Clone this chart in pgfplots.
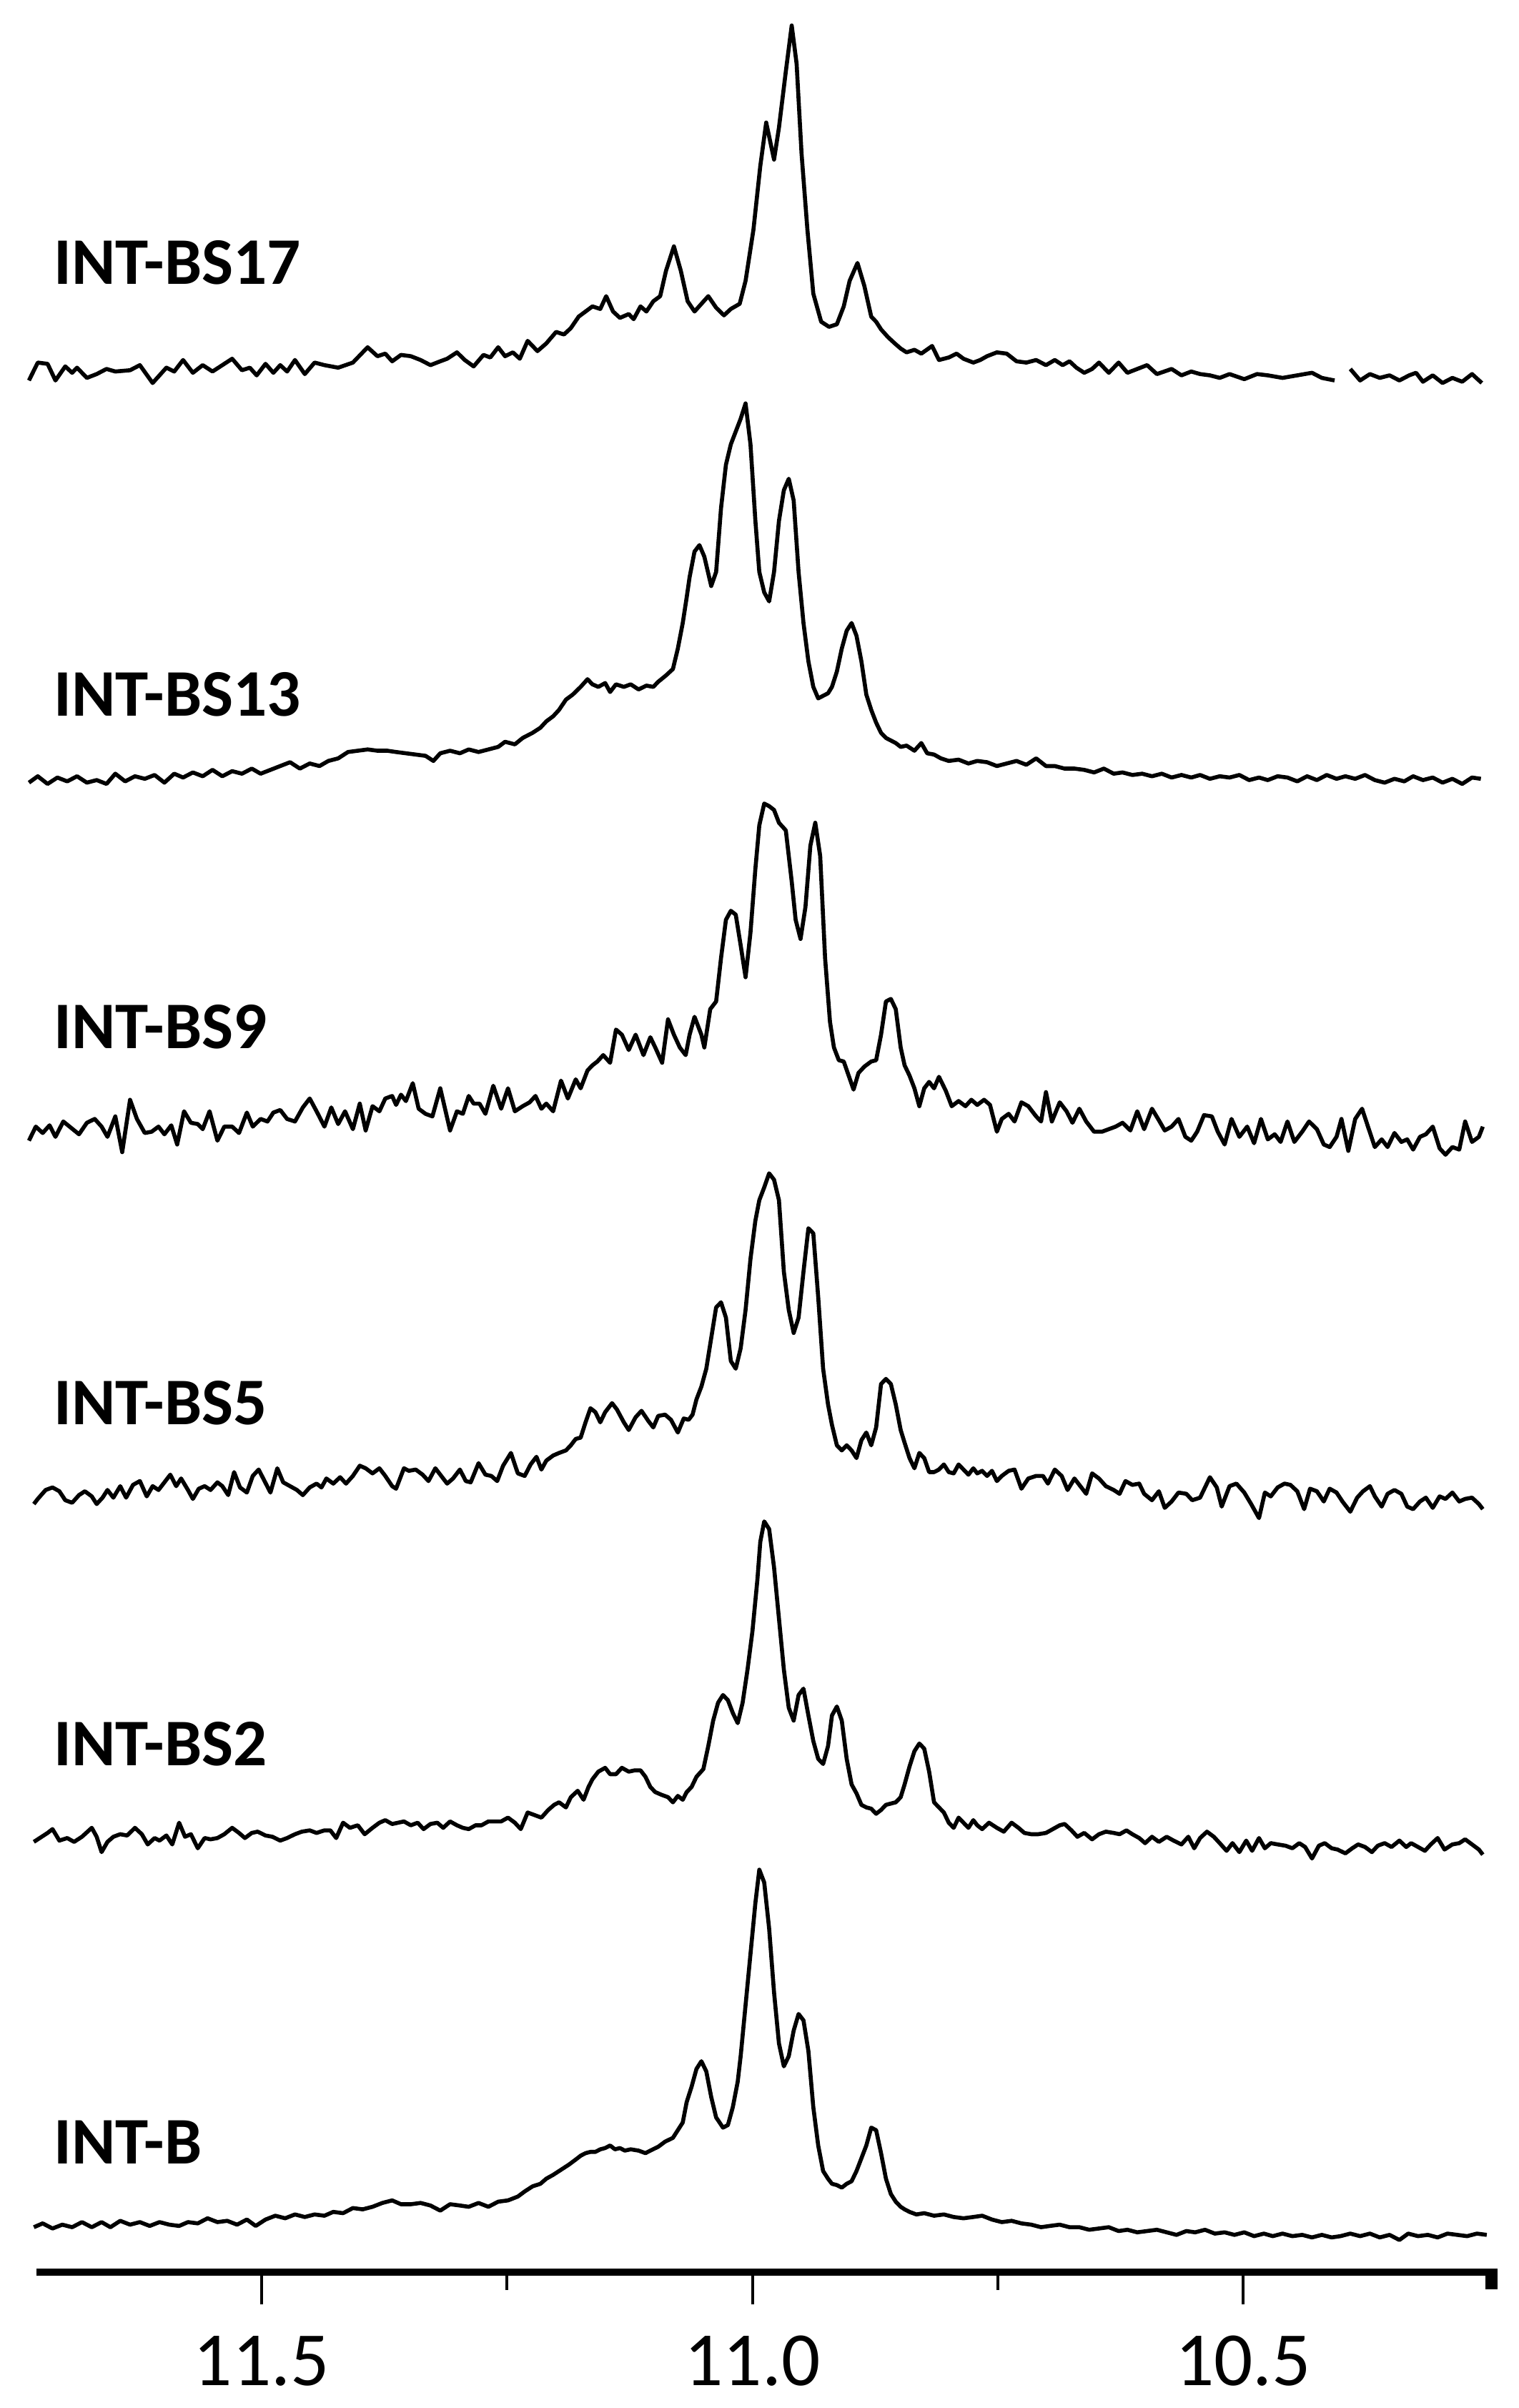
\documentclass[border=0pt]{standalone}
\usepackage{fontspec}
\setmainfont{Carlito}
\usepackage{pgfplots}
\usepackage{pgfplotstable}
\pgfplotsset{compat=1.18}
\pgfplotsset{trace/.style={black, solid, no markers, line width=1.6pt, line join=round}}

% stacked 1H NMR traces, ppm vs. intensity (arbitrary units, offset per trace)
\pgfplotstableread[row sep=\\]{
ppm y\\
11.737 7408\\ 11.728 7478\\ 11.718 7473\\ 11.710 7408\\ 11.700 7463\\ 11.693 7438\\ 11.688 7458\\ 11.678 7418\\
11.668 7433\\ 11.658 7453\\ 11.649 7443\\ 11.634 7448\\ 11.624 7468\\ 11.611 7398\\ 11.597 7458\\ 11.589 7443\\
11.580 7488\\ 11.570 7438\\ 11.560 7468\\ 11.550 7443\\ 11.540 7468\\ 11.530 7493\\ 11.520 7448\\ 11.512 7458\\
11.505 7428\\ 11.496 7473\\ 11.488 7438\\ 11.481 7468\\ 11.474 7443\\ 11.466 7488\\ 11.456 7433\\ 11.446 7478\\
11.436 7468\\ 11.422 7458\\ 11.407 7478\\ 11.392 7538\\ 11.382 7503\\ 11.374 7513\\ 11.367 7483\\ 11.358 7508\\
11.348 7503\\ 11.338 7488\\ 11.328 7468\\ 11.318 7483\\ 11.311 7493\\ 11.301 7518\\ 11.293 7488\\ 11.284 7463\\
11.274 7508\\ 11.267 7498\\ 11.259 7538\\ 11.252 7503\\ 11.244 7518\\ 11.237 7493\\ 11.229 7563\\ 11.219 7523\\
11.210 7553\\ 11.200 7598\\ 11.192 7588\\ 11.185 7613\\ 11.177 7658\\ 11.170 7678\\ 11.163 7698\\ 11.155 7688\\
11.149 7738\\ 11.142 7678\\ 11.135 7653\\ 11.126 7668\\ 11.121 7648\\ 11.114 7698\\ 11.108 7678\\ 11.101 7718\\
11.094 7738\\ 11.088 7838\\ 11.080 7933\\ 11.073 7838\\ 11.066 7718\\ 11.059 7678\\ 11.052 7708\\ 11.045 7738\\
11.037 7693\\ 11.029 7663\\ 11.022 7688\\ 11.013 7708\\ 11.007 7798\\ 10.999 7998\\ 10.992 8248\\ 10.986 8418\\
10.978 8273\\ 10.973 8398\\ 10.966 8618\\ 10.960 8798\\ 10.955 8648\\ 10.950 8298\\ 10.944 7998\\ 10.938 7748\\
10.930 7638\\ 10.922 7618\\ 10.914 7628\\ 10.907 7698\\ 10.901 7798\\ 10.893 7868\\ 10.886 7778\\ 10.879 7658\\
10.874 7638\\ 10.869 7608\\ 10.862 7578\\ 10.855 7553\\ 10.849 7533\\ 10.843 7518\\ 10.835 7528\\ 10.828 7513\\
10.817 7543\\ 10.810 7488\\ 10.800 7498\\ 10.792 7513\\ 10.785 7493\\ 10.775 7478\\ 10.768 7488\\ 10.761 7503\\
10.751 7518\\ 10.741 7513\\ 10.731 7483\\ 10.721 7478\\ 10.711 7488\\ 10.701 7468\\ 10.692 7488\\ 10.684 7468\\
10.677 7483\\ 10.670 7458\\ 10.662 7438\\ 10.654 7453\\ 10.647 7478\\ 10.637 7438\\ 10.627 7478\\ 10.618 7438\\
10.608 7453\\ 10.598 7468\\ 10.588 7433\\ 10.573 7453\\ 10.563 7428\\ 10.553 7443\\ 10.544 7433\\ 10.534 7428\\
10.524 7418\\ 10.514 7433\\ 10.499 7413\\ 10.486 7433\\ 10.475 7428\\ 10.460 7418\\ 10.445 7428\\ 10.430 7438\\
10.420 7418\\ 10.407 7408\\ 10.399 nan\\ 10.391 7453\\ 10.381 7408\\ 10.371 7433\\ 10.361 7418\\ 10.351 7428\\
10.341 7408\\ 10.331 7428\\ 10.324 7438\\ 10.317 7403\\ 10.307 7428\\ 10.297 7398\\ 10.287 7418\\ 10.277 7403\\
10.267 7433\\ 10.257 7398\\
}\specA

\pgfplotstableread[row sep=\\]{
ppm y\\
11.737 5833\\ 11.728 5858\\ 11.718 5828\\ 11.708 5853\\ 11.698 5838\\ 11.688 5858\\ 11.678 5833\\ 11.668 5843\\
11.658 5828\\ 11.649 5868\\ 11.639 5838\\ 11.629 5858\\ 11.619 5848\\ 11.609 5863\\ 11.599 5833\\ 11.589 5868\\
11.580 5853\\ 11.570 5873\\ 11.560 5858\\ 11.550 5883\\ 11.540 5858\\ 11.530 5878\\ 11.520 5868\\ 11.510 5888\\
11.501 5868\\ 11.491 5883\\ 11.481 5898\\ 11.471 5913\\ 11.461 5888\\ 11.451 5908\\ 11.441 5898\\ 11.432 5918\\
11.422 5928\\ 11.412 5953\\ 11.402 5958\\ 11.392 5963\\ 11.382 5958\\ 11.372 5958\\ 11.363 5953\\ 11.353 5948\\
11.343 5943\\ 11.333 5938\\ 11.325 5918\\ 11.318 5948\\ 11.308 5958\\ 11.298 5948\\ 11.289 5963\\ 11.279 5953\\
11.269 5963\\ 11.259 5973\\ 11.252 5993\\ 11.242 5983\\ 11.234 6008\\ 11.224 6028\\ 11.216 6048\\ 11.210 6073\\
11.203 6093\\ 11.197 6118\\ 11.190 6158\\ 11.183 6178\\ 11.175 6208\\ 11.168 6238\\ 11.163 6218\\ 11.157 6208\\
11.150 6223\\ 11.145 6188\\ 11.139 6218\\ 11.131 6208\\ 11.124 6218\\ 11.116 6198\\ 11.108 6213\\ 11.101 6208\\
11.096 6228\\ 11.088 6253\\ 11.081 6278\\ 11.076 6358\\ 11.071 6458\\ 11.067 6558\\ 11.064 6638\\ 11.059 6738\\
11.054 6763\\ 11.049 6718\\ 11.042 6603\\ 11.037 6658\\ 11.032 6908\\ 11.027 7078\\ 11.022 7158\\ 11.017 7208\\
11.012 7258\\ 11.007 7318\\ 11.002 7158\\ 10.997 6858\\ 10.993 6658\\ 10.988 6578\\ 10.983 6543\\ 10.978 6658\\
10.973 6858\\ 10.968 6978\\ 10.963 7023\\ 10.958 6938\\ 10.953 6658\\ 10.948 6458\\ 10.943 6308\\ 10.938 6208\\
10.933 6163\\ 10.928 6173\\ 10.923 6183\\ 10.919 6208\\ 10.914 6268\\ 10.909 6358\\ 10.904 6428\\ 10.899 6458\\
10.894 6408\\ 10.889 6308\\ 10.884 6178\\ 10.879 6118\\ 10.874 6068\\ 10.869 6028\\ 10.864 6008\\ 10.859 5998\\
10.854 5988\\ 10.849 5973\\ 10.843 5978\\ 10.835 5958\\ 10.828 5988\\ 10.822 5948\\ 10.815 5943\\ 10.808 5928\\
10.800 5918\\ 10.790 5923\\ 10.780 5908\\ 10.771 5918\\ 10.761 5913\\ 10.751 5898\\ 10.741 5908\\ 10.731 5918\\
10.721 5903\\ 10.711 5928\\ 10.701 5898\\ 10.692 5898\\ 10.682 5888\\ 10.672 5888\\ 10.662 5883\\ 10.652 5873\\
10.642 5888\\ 10.632 5868\\ 10.623 5873\\ 10.613 5863\\ 10.603 5868\\ 10.593 5858\\ 10.583 5868\\ 10.573 5853\\
10.563 5863\\ 10.553 5853\\ 10.544 5863\\ 10.534 5848\\ 10.524 5858\\ 10.514 5853\\ 10.504 5863\\ 10.494 5843\\
10.484 5853\\ 10.475 5843\\ 10.465 5858\\ 10.455 5853\\ 10.445 5838\\ 10.435 5858\\ 10.425 5843\\ 10.415 5863\\
10.405 5848\\ 10.396 5858\\ 10.386 5848\\ 10.376 5863\\ 10.366 5843\\ 10.356 5833\\ 10.346 5848\\ 10.336 5838\\
10.327 5858\\ 10.317 5843\\ 10.307 5853\\ 10.297 5833\\ 10.287 5848\\ 10.277 5828\\ 10.267 5853\\ 10.258 5848\\
}\specB

\pgfplotstableread[row sep=\\]{
ppm y\\
11.737 4431\\ 11.730 4486\\ 11.723 4461\\ 11.716 4491\\ 11.710 4446\\ 11.702 4506\\ 11.694 4481\\ 11.686 4456\\
11.678 4501\\ 11.670 4516\\ 11.663 4486\\ 11.657 4446\\ 11.649 4526\\ 11.642 4386\\ 11.634 4591\\ 11.627 4516\\
11.619 4461\\ 11.612 4466\\ 11.605 4486\\ 11.599 4456\\ 11.592 4491\\ 11.586 4416\\ 11.579 4546\\ 11.572 4501\\
11.565 4496\\ 11.560 4476\\ 11.553 4546\\ 11.545 4431\\ 11.538 4486\\ 11.530 4486\\ 11.523 4461\\ 11.515 4541\\
11.509 4486\\ 11.501 4516\\ 11.494 4506\\ 11.488 4541\\ 11.481 4551\\ 11.474 4516\\ 11.466 4506\\ 11.458 4561\\
11.451 4596\\ 11.444 4546\\ 11.436 4486\\ 11.429 4561\\ 11.422 4496\\ 11.415 4546\\ 11.407 4476\\ 11.400 4576\\
11.394 4471\\ 11.387 4566\\ 11.380 4546\\ 11.374 4596\\ 11.367 4606\\ 11.363 4571\\ 11.358 4611\\ 11.353 4586\\
11.346 4656\\ 11.340 4556\\ 11.333 4536\\ 11.326 4526\\ 11.318 4636\\ 11.308 4471\\ 11.301 4546\\ 11.295 4536\\
11.289 4606\\ 11.284 4576\\ 11.278 4576\\ 11.272 4536\\ 11.264 4646\\ 11.256 4556\\ 11.249 4636\\ 11.242 4546\\
11.234 4566\\ 11.227 4581\\ 11.221 4606\\ 11.215 4556\\ 11.210 4576\\ 11.203 4546\\ 11.195 4666\\ 11.188 4596\\
11.180 4671\\ 11.175 4636\\ 11.168 4706\\ 11.163 4726\\ 11.158 4741\\ 11.152 4766\\ 11.145 4736\\ 11.139 4866\\
11.133 4846\\ 11.126 4786\\ 11.119 4846\\ 11.111 4766\\ 11.104 4836\\ 11.099 4796\\ 11.092 4736\\ 11.086 4906\\
11.080 4846\\ 11.074 4796\\ 11.068 4766\\ 11.064 4846\\ 11.059 4916\\ 11.052 4846\\ 11.049 4796\\ 11.043 4946\\
11.037 4976\\ 11.032 5146\\ 11.027 5296\\ 11.022 5331\\ 11.017 5316\\ 11.012 5196\\ 11.007 5071\\ 11.002 5246\\
10.997 5496\\ 10.993 5666\\ 10.988 5751\\ 10.983 5741\\ 10.978 5726\\ 10.973 5676\\ 10.966 5646\\ 10.960 5446\\
10.956 5296\\ 10.951 5221\\ 10.946 5346\\ 10.941 5586\\ 10.936 5676\\ 10.931 5546\\ 10.926 5146\\ 10.921 4896\\
10.917 4796\\ 10.912 4746\\ 10.907 4741\\ 10.902 4686\\ 10.897 4631\\ 10.892 4696\\ 10.886 4721\\ 10.879 4741\\
10.874 4746\\ 10.869 4846\\ 10.864 4976\\ 10.859 4986\\ 10.854 4946\\ 10.849 4796\\ 10.845 4726\\ 10.840 4686\\
10.835 4636\\ 10.830 4566\\ 10.825 4636\\ 10.820 4661\\ 10.815 4636\\ 10.810 4681\\ 10.803 4626\\ 10.797 4566\\
10.790 4586\\ 10.783 4566\\ 10.777 4591\\ 10.771 4571\\ 10.764 4591\\ 10.758 4571\\ 10.751 4466\\ 10.746 4516\\
10.739 4536\\ 10.733 4506\\ 10.726 4581\\ 10.719 4566\\ 10.711 4526\\ 10.706 4506\\ 10.701 4621\\ 10.695 4506\\
10.687 4581\\ 10.680 4546\\ 10.674 4501\\ 10.667 4556\\ 10.660 4506\\ 10.652 4466\\ 10.644 4466\\ 10.637 4476\\
10.630 4486\\ 10.623 4501\\ 10.615 4471\\ 10.608 4546\\ 10.601 4476\\ 10.593 4556\\ 10.586 4511\\ 10.580 4471\\
10.573 4486\\ 10.566 4516\\ 10.559 4446\\ 10.553 4431\\ 10.547 4466\\ 10.540 4531\\ 10.532 4526\\ 10.526 4466\\
10.519 4416\\ 10.512 4516\\ 10.504 4446\\ 10.496 4486\\ 10.489 4421\\ 10.482 4516\\ 10.475 4436\\ 10.468 4456\\
10.462 4426\\ 10.455 4506\\ 10.448 4426\\ 10.440 4466\\ 10.433 4506\\ 10.425 4476\\ 10.418 4416\\ 10.412 4406\\
10.405 4446\\ 10.400 4516\\ 10.393 4391\\ 10.386 4516\\ 10.379 4556\\ 10.373 4486\\ 10.366 4406\\ 10.359 4436\\
10.353 4406\\ 10.346 4461\\ 10.339 4426\\ 10.333 4436\\ 10.327 4396\\ 10.320 4446\\ 10.314 4456\\ 10.307 4486\\
10.300 4401\\ 10.294 4376\\ 10.287 4406\\ 10.280 4396\\ 10.274 4506\\ 10.267 4426\\ 10.260 4446\\ 10.256 4486\\
}\specC

\pgfplotstableread[row sep=\\]{
ppm y\\
11.732 3008\\ 11.728 3028\\ 11.720 3063\\ 11.713 3073\\ 11.706 3058\\ 11.700 3023\\ 11.693 3013\\ 11.686 3043\\
11.680 3058\\ 11.673 3038\\ 11.668 3008\\ 11.662 3033\\ 11.657 3063\\ 11.651 3033\\ 11.644 3078\\ 11.638 3033\\
11.631 3083\\ 11.624 3098\\ 11.617 3038\\ 11.611 3078\\ 11.605 3063\\ 11.599 3093\\ 11.593 3123\\ 11.587 3078\\
11.582 3108\\ 11.575 3063\\ 11.570 3028\\ 11.564 3068\\ 11.558 3078\\ 11.552 3063\\ 11.545 3093\\ 11.540 3078\\
11.534 3043\\ 11.528 3133\\ 11.522 3073\\ 11.515 3053\\ 11.509 3118\\ 11.503 3143\\ 11.497 3098\\ 11.491 3053\\
11.484 3148\\ 11.478 3093\\ 11.471 3078\\ 11.464 3063\\ 11.458 3043\\ 11.451 3073\\ 11.444 3088\\ 11.439 3073\\
11.434 3108\\ 11.427 3088\\ 11.420 3113\\ 11.414 3088\\ 11.407 3118\\ 11.400 3158\\ 11.394 3148\\ 11.387 3128\\
11.380 3148\\ 11.374 3118\\ 11.367 3078\\ 11.363 3068\\ 11.355 3148\\ 11.350 3138\\ 11.343 3143\\ 11.336 3123\\
11.330 3098\\ 11.323 3148\\ 11.317 3118\\ 11.311 3088\\ 11.305 3108\\ 11.298 3143\\ 11.292 3098\\ 11.287 3093\\
11.279 3168\\ 11.272 3123\\ 11.266 3118\\ 11.260 3098\\ 11.254 3158\\ 11.246 3208\\ 11.239 3128\\ 11.232 3118\\
11.226 3163\\ 11.220 3193\\ 11.215 3143\\ 11.210 3178\\ 11.203 3198\\ 11.197 3208\\ 11.190 3218\\ 11.185 3238\\
11.180 3263\\ 11.175 3268\\ 11.170 3328\\ 11.165 3383\\ 11.160 3368\\ 11.155 3328\\ 11.150 3368\\ 11.143 3403\\
11.138 3378\\ 11.131 3328\\ 11.126 3298\\ 11.119 3348\\ 11.113 3373\\ 11.106 3333\\ 11.101 3308\\ 11.096 3353\\
11.089 3358\\ 11.083 3338\\ 11.076 3288\\ 11.070 3343\\ 11.065 3338\\ 11.061 3358\\ 11.057 3418\\ 11.052 3468\\
11.047 3538\\ 11.042 3658\\ 11.037 3778\\ 11.032 3798\\ 11.027 3738\\ 11.022 3568\\ 11.017 3538\\ 11.012 3618\\
11.007 3768\\ 11.002 3968\\ 10.997 4118\\ 10.993 4198\\ 10.988 4248\\ 10.983 4303\\ 10.978 4278\\ 10.973 4198\\
10.968 3918\\ 10.963 3768\\ 10.958 3678\\ 10.953 3738\\ 10.948 3918\\ 10.943 4088\\ 10.938 4068\\ 10.933 3818\\
10.928 3538\\ 10.923 3398\\ 10.919 3318\\ 10.914 3238\\ 10.909 3218\\ 10.904 3238\\ 10.899 3218\\ 10.894 3188\\
10.889 3258\\ 10.884 3288\\ 10.879 3238\\ 10.874 3308\\ 10.869 3478\\ 10.864 3498\\ 10.859 3478\\ 10.854 3398\\
10.849 3298\\ 10.845 3248\\ 10.840 3188\\ 10.835 3148\\ 10.830 3208\\ 10.825 3188\\ 10.820 3133\\ 10.815 3133\\
10.810 3143\\ 10.805 3163\\ 10.800 3133\\ 10.795 3128\\ 10.790 3163\\ 10.785 3143\\ 10.780 3123\\ 10.775 3148\\
10.771 3128\\ 10.766 3138\\ 10.761 3118\\ 10.756 3138\\ 10.751 3098\\ 10.746 3118\\ 10.739 3138\\ 10.733 3143\\
10.726 3068\\ 10.719 3108\\ 10.711 3118\\ 10.704 3118\\ 10.699 3088\\ 10.692 3143\\ 10.685 3118\\ 10.679 3063\\
10.672 3108\\ 10.665 3073\\ 10.660 3048\\ 10.654 3128\\ 10.647 3108\\ 10.640 3078\\ 10.632 3063\\ 10.626 3048\\
10.620 3098\\ 10.613 3083\\ 10.606 3088\\ 10.601 3048\\ 10.593 3023\\ 10.586 3058\\ 10.580 2993\\ 10.573 3018\\
10.566 3053\\ 10.558 3048\\ 10.552 3023\\ 10.544 3033\\ 10.534 3113\\ 10.527 3073\\ 10.522 2998\\ 10.514 3078\\
10.507 3088\\ 10.499 3053\\ 10.492 3008\\ 10.484 2953\\ 10.478 3053\\ 10.472 3038\\ 10.465 3073\\ 10.458 3088\\
10.452 3083\\ 10.445 3058\\ 10.438 2988\\ 10.432 3068\\ 10.425 3058\\ 10.418 3018\\ 10.412 3068\\ 10.405 3053\\
10.399 3018\\ 10.391 2978\\ 10.384 3033\\ 10.378 3058\\ 10.371 3078\\ 10.366 3038\\ 10.359 2998\\ 10.353 3048\\
10.346 3063\\ 10.339 3048\\ 10.333 2998\\ 10.327 2988\\ 10.320 3018\\ 10.314 3033\\ 10.307 2993\\ 10.300 3038\\
10.294 3028\\ 10.287 3053\\ 10.280 3018\\ 10.274 3028\\ 10.267 3033\\ 10.260 3008\\ 10.256 2988\\
}\specD

\pgfplotstableread[row sep=\\]{
ppm y\\
11.732 1685\\ 11.726 1700\\ 11.718 1720\\ 11.713 1735\\ 11.706 1690\\ 11.698 1700\\ 11.691 1685\\ 11.683 1705\\
11.673 1740\\ 11.668 1705\\ 11.663 1645\\ 11.657 1685\\ 11.651 1705\\ 11.644 1715\\ 11.637 1710\\ 11.629 1740\\
11.622 1715\\ 11.616 1675\\ 11.609 1700\\ 11.604 1690\\ 11.597 1710\\ 11.591 1675\\ 11.584 1760\\ 11.578 1705\\
11.572 1715\\ 11.565 1660\\ 11.558 1700\\ 11.552 1695\\ 11.545 1700\\ 11.538 1715\\ 11.530 1740\\ 11.523 1720\\
11.517 1700\\ 11.510 1720\\ 11.504 1725\\ 11.496 1710\\ 11.489 1705\\ 11.481 1690\\ 11.474 1700\\ 11.466 1715\\
11.459 1725\\ 11.451 1730\\ 11.444 1720\\ 11.436 1730\\ 11.430 1730\\ 11.424 1700\\ 11.417 1760\\ 11.410 1740\\
11.402 1750\\ 11.395 1715\\ 11.387 1740\\ 11.380 1760\\ 11.374 1770\\ 11.367 1755\\ 11.361 1760\\ 11.355 1765\\
11.348 1750\\ 11.341 1760\\ 11.335 1735\\ 11.328 1755\\ 11.321 1760\\ 11.315 1740\\ 11.308 1765\\ 11.301 1750\\
11.295 1740\\ 11.289 1735\\ 11.282 1750\\ 11.276 1750\\ 11.269 1765\\ 11.262 1765\\ 11.256 1765\\ 11.249 1780\\
11.242 1760\\ 11.236 1735\\ 11.229 1800\\ 11.222 1790\\ 11.215 1780\\ 11.208 1810\\ 11.202 1830\\ 11.197 1840\\
11.190 1820\\ 11.185 1860\\ 11.178 1885\\ 11.172 1850\\ 11.167 1900\\ 11.163 1930\\ 11.157 1960\\ 11.150 1975\\
11.145 1950\\ 11.139 1950\\ 11.133 1975\\ 11.126 1960\\ 11.120 1965\\ 11.114 1965\\ 11.109 1940\\ 11.104 1900\\
11.099 1880\\ 11.093 1870\\ 11.086 1860\\ 11.081 1840\\ 11.076 1865\\ 11.071 1850\\ 11.067 1880\\ 11.062 1900\\
11.057 1940\\ 11.050 1970\\ 11.045 2060\\ 11.040 2160\\ 11.035 2230\\ 11.030 2260\\ 11.025 2240\\ 11.020 2190\\
11.015 2150\\ 11.010 2230\\ 11.005 2360\\ 11.000 2510\\ 10.995 2710\\ 10.992 2860\\ 10.988 2940\\ 10.983 2910\\
10.978 2760\\ 10.973 2560\\ 10.968 2360\\ 10.963 2210\\ 10.958 2160\\ 10.953 2260\\ 10.948 2285\\ 10.943 2180\\
10.938 2080\\ 10.933 2010\\ 10.928 1990\\ 10.923 2060\\ 10.919 2180\\ 10.914 2215\\ 10.909 2160\\ 10.904 2010\\
10.899 1910\\ 10.894 1875\\ 10.889 1830\\ 10.884 1820\\ 10.879 1815\\ 10.874 1795\\ 10.869 1810\\ 10.864 1830\\
10.859 1835\\ 10.854 1840\\ 10.849 1860\\ 10.845 1910\\ 10.840 1980\\ 10.835 2040\\ 10.830 2070\\ 10.825 2050\\
10.820 1960\\ 10.815 1840\\ 10.810 1820\\ 10.805 1800\\ 10.800 1760\\ 10.795 1740\\ 10.790 1780\\ 10.785 1760\\
10.780 1740\\ 10.775 1770\\ 10.771 1750\\ 10.766 1735\\ 10.759 1760\\ 10.751 1740\\ 10.744 1725\\ 10.736 1760\\
10.729 1740\\ 10.723 1720\\ 10.716 1715\\ 10.709 1715\\ 10.701 1720\\ 10.694 1735\\ 10.687 1750\\ 10.682 1755\\
10.675 1730\\ 10.669 1705\\ 10.662 1720\\ 10.654 1695\\ 10.647 1715\\ 10.640 1725\\ 10.632 1720\\ 10.626 1715\\
10.619 1730\\ 10.613 1715\\ 10.606 1700\\ 10.600 1680\\ 10.593 1705\\ 10.586 1685\\ 10.578 1705\\ 10.571 1690\\
10.563 1675\\ 10.556 1705\\ 10.550 1660\\ 10.544 1700\\ 10.537 1725\\ 10.530 1705\\ 10.524 1680\\ 10.517 1650\\
10.511 1680\\ 10.504 1645\\ 10.497 1690\\ 10.491 1650\\ 10.484 1700\\ 10.478 1660\\ 10.472 1680\\ 10.465 1675\\
10.457 1670\\ 10.450 1660\\ 10.443 1680\\ 10.437 1665\\ 10.430 1620\\ 10.423 1670\\ 10.417 1680\\ 10.410 1660\\
10.404 1655\\ 10.396 1640\\ 10.389 1660\\ 10.383 1675\\ 10.376 1665\\ 10.369 1645\\ 10.363 1670\\ 10.356 1680\\
10.349 1665\\ 10.341 1690\\ 10.334 1665\\ 10.329 1680\\ 10.322 1665\\ 10.315 1650\\ 10.309 1675\\ 10.302 1700\\
10.295 1655\\ 10.287 1675\\ 10.280 1680\\ 10.274 1695\\ 10.267 1675\\ 10.260 1655\\ 10.256 1635\\
}\specE

\pgfplotstableread[row sep=\\]{
ppm y\\
11.732 176\\ 11.723 191\\ 11.713 171\\ 11.703 186\\ 11.693 176\\ 11.683 196\\ 11.673 176\\ 11.663 196\\
11.654 176\\ 11.644 201\\ 11.634 186\\ 11.624 196\\ 11.614 181\\ 11.604 196\\ 11.594 186\\ 11.584 181\\
11.575 196\\ 11.565 191\\ 11.555 211\\ 11.545 196\\ 11.535 201\\ 11.525 186\\ 11.515 206\\ 11.506 181\\
11.496 206\\ 11.486 221\\ 11.476 211\\ 11.466 226\\ 11.456 216\\ 11.446 226\\ 11.436 221\\ 11.427 236\\
11.417 231\\ 11.407 251\\ 11.397 246\\ 11.387 256\\ 11.377 271\\ 11.367 281\\ 11.358 266\\ 11.348 266\\
11.338 271\\ 11.328 261\\ 11.318 241\\ 11.308 266\\ 11.298 261\\ 11.289 256\\ 11.279 271\\ 11.269 256\\
11.259 276\\ 11.249 281\\ 11.239 296\\ 11.232 316\\ 11.224 336\\ 11.216 346\\ 11.210 366\\ 11.203 381\\
11.195 401\\ 11.187 421\\ 11.180 441\\ 11.175 456\\ 11.170 466\\ 11.165 471\\ 11.160 471\\ 11.155 481\\
11.150 486\\ 11.145 496\\ 11.140 481\\ 11.135 486\\ 11.130 476\\ 11.124 481\\ 11.116 476\\ 11.109 466\\
11.104 476\\ 11.096 491\\ 11.089 511\\ 11.081 526\\ 11.076 556\\ 11.071 586\\ 11.067 666\\ 11.062 726\\
11.057 796\\ 11.052 826\\ 11.047 786\\ 11.042 686\\ 11.037 606\\ 11.030 566\\ 11.025 576\\ 11.020 646\\
11.015 746\\ 11.012 846\\ 11.007 1046\\ 11.002 1246\\ 10.997 1446\\ 10.993 1576\\ 10.988 1526\\ 10.983 1346\\
10.978 1096\\ 10.973 896\\ 10.968 806\\ 10.963 846\\ 10.958 946\\ 10.953 1011\\ 10.948 986\\ 10.943 866\\
10.938 646\\ 10.933 496\\ 10.928 396\\ 10.923 366\\ 10.919 346\\ 10.914 341\\ 10.909 331\\ 10.904 346\\
10.899 356\\ 10.894 396\\ 10.889 446\\ 10.884 496\\ 10.879 566\\ 10.874 556\\ 10.869 466\\ 10.864 366\\
10.859 306\\ 10.854 276\\ 10.849 256\\ 10.845 246\\ 10.840 236\\ 10.833 226\\ 10.825 231\\ 10.815 221\\
10.805 226\\ 10.795 216\\ 10.785 211\\ 10.775 216\\ 10.766 221\\ 10.756 206\\ 10.746 196\\ 10.736 201\\
10.726 191\\ 10.716 186\\ 10.706 176\\ 10.697 181\\ 10.687 186\\ 10.677 176\\ 10.667 176\\ 10.657 166\\
10.647 171\\ 10.637 176\\ 10.627 161\\ 10.618 166\\ 10.608 156\\ 10.598 161\\ 10.588 166\\ 10.578 156\\
10.568 146\\ 10.558 161\\ 10.549 156\\ 10.539 166\\ 10.529 151\\ 10.519 156\\ 10.509 146\\ 10.499 156\\
10.489 141\\ 10.479 151\\ 10.470 141\\ 10.460 151\\ 10.450 141\\ 10.440 146\\ 10.430 136\\ 10.420 146\\
10.410 136\\ 10.401 141\\ 10.391 151\\ 10.381 141\\ 10.371 151\\ 10.361 136\\ 10.351 146\\ 10.341 126\\
10.332 151\\ 10.322 141\\ 10.312 146\\ 10.302 136\\ 10.292 151\\ 10.282 146\\ 10.272 141\\ 10.262 151\\
10.252 146\\
}\specF

\begin{document}
\begin{tikzpicture}
\useasboundingbox (0,0) rectangle (21.24,33.68);
\begin{axis}[
    at={(0.515cm,1.90cm)}, anchor=south west,
    scale only axis,
    width=20.435cm, height=31.78cm,
    xmin=10.241, xmax=11.729, x dir=reverse,
    ymin=0, ymax=8898,
    axis x line=bottom, axis y line=none,
    x axis line style={-, line width=2.8pt},
    xtick={10.5,11.0,11.5}, xticklabels={10.5,11.0,11.5},
    minor xtick={10.75,11.25},
    tick align=outside,
    major tick length=0.45cm, minor tick length=0.25cm,
    tick style={black, line width=1.1pt},
    xticklabel style={font=\fontsize{30.5}{34}\selectfont, anchor=base, yshift=-1.13cm},
    extra x ticks={10.2475}, extra x tick labels={},
    extra x tick style={major tick length=0.24cm, tick style={line width=0.17cm}},
    /pgf/number format/assume math mode=true,
    unbounded coords=jump,
    clip=false,
]
% traces, bottom (INT-B) to top (INT-BS17)
\addplot[trace] table[x=ppm, y=y] {\specF};
\addplot[trace] table[x=ppm, y=y] {\specE};
\addplot[trace] table[x=ppm, y=y] {\specD};
\addplot[trace] table[x=ppm, y=y] {\specC};
\addplot[trace] table[x=ppm, y=y] {\specB};
\addplot[trace] table[x=ppm, y=y] {\specA};

% sample names
\begin{scope}[every node/.style={anchor=base west, inner sep=0pt, font=\fontsize{26.5}{30}\selectfont\bfseries}]
\node at (axis cs:11.712,7786) {INT-BS17};
\node at (axis cs:11.712,6093) {INT-BS13};
\node at (axis cs:11.712,4791) {INT-BS9};
\node at (axis cs:11.712,3318) {INT-BS5};
\node at (axis cs:11.712,1985) {INT-BS2};
\node at (axis cs:11.712,424) {INT-B};
\end{scope}
\end{axis}
\end{tikzpicture}
\end{document}
